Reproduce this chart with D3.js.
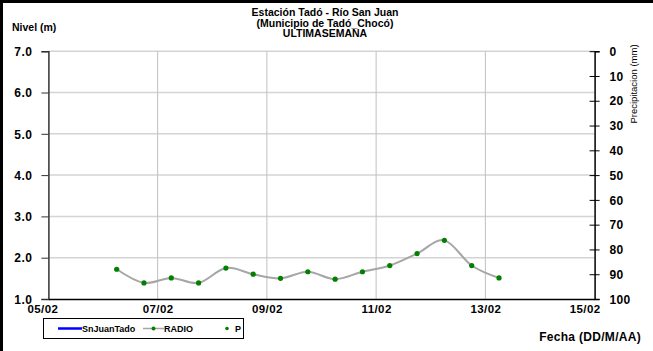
<!DOCTYPE html>
<html><head><meta charset="utf-8">
<script src="https://cdn.jsdelivr.net/npm/d3@7"></script>
<style>
html,body{margin:0;padding:0;background:#fff;}
text{font-family:"Liberation Sans",Arial,sans-serif;font-weight:bold;fill:#000;}
</style></head>
<body>
<svg id="c" width="653" height="351"></svg>
<script>
// ---- data ----
const times = ["2013-02-06T06:00","2013-02-06T18:00","2013-02-07T06:00","2013-02-07T18:00",
  "2013-02-08T06:00","2013-02-08T18:00","2013-02-09T06:00","2013-02-09T18:00",
  "2013-02-10T06:00","2013-02-10T18:00","2013-02-11T06:00","2013-02-11T18:00",
  "2013-02-12T06:00","2013-02-12T18:00","2013-02-13T06:00"];
const radio = [1.72,1.39,1.51,1.39,1.75,1.60,1.50,1.66,1.48,1.66,1.81,2.10,2.42,1.81,1.51];
const xTicks = ["2013-02-05","2013-02-07","2013-02-09","2013-02-11","2013-02-13","2013-02-15"];
const yTicks = [1,2,3,4,5,6,7];
const pTicks = [0,10,20,30,40,50,60,70,80,90,100];
const titleLines = ["Estación Tadó - Río San Juan","(Municipio de Tadó_Chocó)","ULTIMASEMANA"];
const legendItems = ["SnJuanTado","RADIO","P"];

const parse = d3.timeParse("%Y-%m-%dT%H:%M");
const parseD = d3.timeParse("%Y-%m-%d");
const data = times.map((t,i)=>({t:parse(t), v:radio[i]}));

const svg = d3.select("#c");
const L=48.4, R=594.6, T=51.2, B=299;

const x = d3.scaleTime().domain([parseD(xTicks[0]), parseD(xTicks[xTicks.length-1])]).range([L,R]);
const y = d3.scaleLinear().domain([1,7]).range([B,T]);
const yp = d3.scaleLinear().domain([0,100]).range([T,B]);

// frame
svg.append("line").attr("x1",1.5).attr("x2",1.5).attr("y1",0).attr("y2",351).attr("stroke","#000").attr("stroke-width",3);
svg.append("line").attr("x1",0).attr("x2",653).attr("y1",1.5).attr("y2",1.5).attr("stroke","#000").attr("stroke-width",3);

// gridlines
svg.append("g").selectAll("line").data(yTicks.slice(1)).join("line")
  .attr("x1",L).attr("x2",R).attr("y1",d=>y(d)).attr("y2",d=>y(d))
  .attr("stroke","#d4d4d4").attr("stroke-width",1.5);
svg.append("g").selectAll("line").data(xTicks.slice(1,-1).map(parseD)).join("line")
  .attr("x1",d=>x(d)).attr("x2",d=>x(d)).attr("y1",T).attr("y2",B)
  .attr("stroke","#c0c0c0").attr("stroke-width",1);

// left axis
const gl = svg.append("g").attr("transform",`translate(${L},0)`)
  .call(d3.axisLeft(y).tickValues(yTicks).tickFormat(d3.format(".1f")).tickSize(7).tickPadding(9));
gl.select(".domain").attr("stroke","#333").attr("stroke-width",1.5);
gl.selectAll(".tick line").attr("stroke","#333");
gl.selectAll("text").style("font-size","12px").style("letter-spacing","0.5px").attr("dy","0.35em");

// bottom axis
const gb = svg.append("g").attr("transform",`translate(0,${B})`)
  .call(d3.axisBottom(x).tickValues(xTicks.map(parseD)).tickFormat(d3.timeFormat("%d/%m")).tickSize(0).tickPadding(6));
gb.select(".domain").attr("stroke","#000").attr("stroke-width",1.5);
const nx = xTicks.length;
gb.selectAll("text").style("font-size","11.5px").style("letter-spacing","0.4px").attr("dy","0.71em")
  .attr("dx",(d,i)=> i===0 ? -6 : (i===nx-1 ? -10 : 0));

// right axis
const gr = svg.append("g").attr("transform",`translate(${R},0)`)
  .call(d3.axisRight(yp).tickValues(pTicks).tickSize(5).tickPadding(10));
gr.select(".domain").attr("stroke","#000").attr("stroke-width",1.5);
gr.selectAll(".tick line").attr("stroke","#000").attr("x1",-5);
gr.selectAll("text").style("font-size","12px").style("letter-spacing","0.3px").attr("dy","0.35em");

// line
const line = d3.line().x(d=>x(d.t)).y(d=>y(d.v)).curve(d3.curveCardinal.tension(0));
svg.append("path").datum(data).attr("d",line).attr("fill","none").attr("stroke","#a6a6a6").attr("stroke-width",2);
svg.append("g").selectAll("circle").data(data).join("circle")
  .attr("cx",d=>x(d.t)).attr("cy",d=>y(d.v)).attr("r",2.6).attr("fill","#008000");

// titles
svg.append("g").selectAll("text").data(titleLines).join("text")
  .attr("x",325).attr("y",(d,i)=>16+i*10.5).attr("text-anchor","middle").style("font-size","10.5px").text(d=>d);
svg.append("text").attr("x",12).attr("y",31).style("font-size","10.5px").text("Nivel (m)");
svg.append("text").attr("transform","translate(637,84) rotate(-90)").attr("text-anchor","middle")
  .style("font-size","9.5px").style("font-weight","normal").text("Precipitacion (mm)");
svg.append("text").attr("x",641).attr("y",341).attr("text-anchor","end").style("font-size","12px").style("letter-spacing","0.3px").text("Fecha (DD/M/AA)");

// legend
const lg = svg.append("g");
lg.append("rect").attr("x",43.5).attr("y",318.5).attr("width",200).attr("height",20).attr("fill","#fff").attr("stroke","#000").attr("stroke-width",1);
lg.append("line").attr("x1",58).attr("x2",82).attr("y1",328.5).attr("y2",328.5).attr("stroke","#0000ff").attr("stroke-width",2.5);
lg.append("text").attr("x",82).attr("y",332).style("font-size","9px").text(legendItems[0]);
lg.append("line").attr("x1",143).attr("x2",164).attr("y1",328.5).attr("y2",328.5).attr("stroke","#a6a6a6").attr("stroke-width",1.5);
lg.append("circle").attr("cx",153.5).attr("cy",328.5).attr("r",2).attr("fill","#008000");
lg.append("text").attr("x",164).attr("y",332).style("font-size","9px").text(legendItems[1]);
lg.append("circle").attr("cx",227).attr("cy",328.5).attr("r",1.8).attr("fill","#008000");
lg.append("text").attr("x",235).attr("y",332).style("font-size","9px").text(legendItems[2]);
</script>
</body></html>
